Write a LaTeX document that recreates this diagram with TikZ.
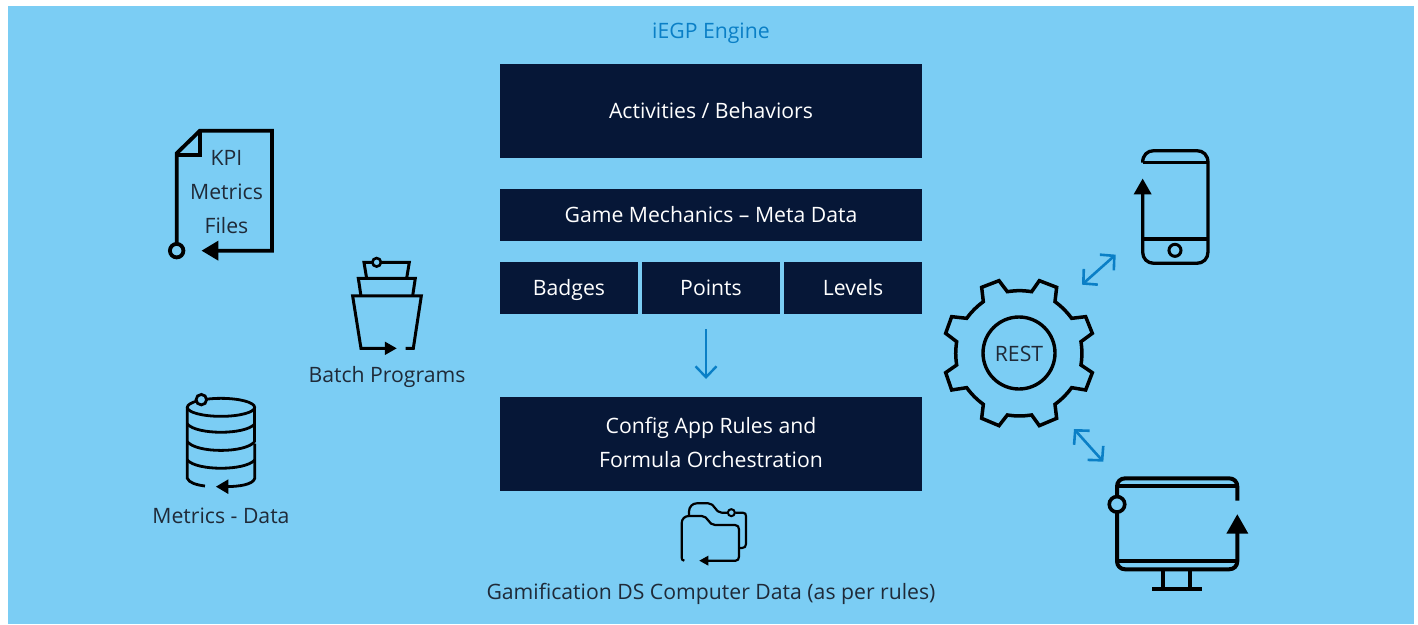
\documentclass[tikz,border=0pt]{standalone}
\usepackage{fontspec}
\setmainfont{Open Sans}
\usetikzlibrary{arrows.meta}
\definecolor{bgblue}{HTML}{7BCDF4}
\definecolor{navy}{HTML}{061737}
\definecolor{linkblue}{HTML}{0A7FC6}
\definecolor{inkdark}{HTML}{1F2A38}
\tikzset{
  x=1pt,y=-1pt,
  txt/.style={font=\fontsize{21.2}{34}\selectfont,inner sep=0pt,align=center},
  one/.style={text height=20pt,text depth=5pt},
  box/.style={txt,fill=navy,text=white,minimum height=#1},
  lab/.style={txt,text=inkdark},
  icon/.style={draw=black,line width=#1,line join=miter},
  bluearrow/.style={draw=linkblue,line width=2.6pt,{Straight Barb[length=10pt,width=21pt,line width=2.6pt]}-{Straight Barb[length=10pt,width=21pt,line width=2.6pt]}},
  downarrow/.style={draw=linkblue,line width=2.4pt,-{Straight Barb[length=11pt,width=21pt,line width=2.4pt]}},
  ring/.style={draw=black,fill=bgblue,circle,inner sep=0pt,minimum size=#1},
}
\begin{document}
\begin{tikzpicture}
\useasboundingbox (0,0) rectangle (1418,624);
\fill[bgblue] (8,6) rectangle (1414,624);
\node[txt,one,text=linkblue] (title) at (711,30.5) {iEGP Engine};
\node[box=94pt,minimum width=422pt,one] (act) at (711,111) {Activities / Behaviors};
\node[box=52pt,minimum width=422pt,one] (game) at (711,215) {Game Mechanics – Meta Data};
\node[box=52pt,minimum width=138pt,one] (badges) at (569,288) {Badges};
\node[box=52pt,minimum width=138pt,one] (points) at (711,288) {Points};
\node[box=52pt,minimum width=138pt,one] (levels) at (853,288) {Levels};
\node[box=94pt,minimum width=422pt] (config) at (711,444) {\smash{\raisebox{-6.8pt}{Config App Rules and}}\\\smash{\raisebox{-6.8pt}{Formula Orchestration}}};
\coordinate (downa) at (706,329);
\coordinate (downb) at (706,379);
\draw[downarrow] (downa) -- (downb);
% KPI file
\begin{scope}[shift={(140,110)},x=0.3333pt,y=-0.3333pt]
\coordinate (kpitip) at (185,422);
\draw[icon=3.8pt] (110,400) -- (110,130) -- (180,62) -- (396,62) -- (396,422) -- (225,422);
\draw[icon=3.8pt] (180,62) -- (180,135) -- (110,135);
\fill (kpitip) -- (235,392) -- (235,452) -- cycle;
\node[ring=13.5pt,line width=3.8pt] (kpiring) at (110,422) {};
\end{scope}
\node[lab] (kpi) at (226.5,192.5) {KPI\\Metrics\\Files};
% Batch
\begin{scope}[shift={(140,110)},x=0.3333pt,y=-0.3333pt]
\draw[icon=3pt] (680,505) -- (672,457) -- (808,457) -- (800,505);
\draw[icon=3pt] (663,558) -- (655,505) -- (826,505) -- (818,558);
\draw[icon=3pt] (745,715) -- (663,715) -- (638,558) -- (844,558) -- (820,715) -- (797,715);
\fill (770,715) -- (735,695) -- (735,735) -- cycle;
\node[ring=8.5pt,line width=2.6pt] (batchring) at (710,457) {};
\end{scope}
\node[lab,one] (batch) at (387,374.5) {Batch Programs};
% Database
\begin{scope}[shift={(140,385)},x=0.3333pt,y=-0.3333pt]
\draw[icon=2.8pt] (243,67) ellipse [x radius=101,y radius=27];
\draw[icon=2.8pt] (142,67) -- (142,280) .. controls (146,293) and (170,300) .. (195,303);
\draw[icon=2.8pt] (344,67) -- (344,172);
\draw[icon=2.8pt] (344,176) -- (344,280) .. controls (340,298) and (300,305) .. (255,305);
\draw[icon=2.8pt] (142,117) .. controls (170,150) and (316,150) .. (344,117);
\draw[icon=2.8pt] (142,170) .. controls (170,205) and (316,205) .. (344,170);
\draw[icon=2.8pt] (142,225) .. controls (170,258) and (316,258) .. (344,225);
\fill (228,305) -- (265,283) -- (265,327) -- cycle;
\node[ring=10.5pt,line width=2.8pt] (dbring) at (184,44) {};
\end{scope}
\node[lab,one] (metrics) at (221,515.5) {Metrics - Data};
% Folder
\begin{scope}[shift={(640,490)},x=0.3333pt,y=-0.3333pt]
\draw[icon=2.2pt,line join=round] (133,212) .. controls (127,212) and (125,208) .. (125,203) -- (125,100) .. controls (125,86) and (135,78) .. (147,78) -- (185,78) .. controls (205,78) and (205,105) .. (225,105) -- (285,105) .. controls (293,105) and (297,110) .. (297,118) -- (297,200) .. controls (297,208) and (293,212) .. (287,212) -- (195,212);
\draw[icon=2.2pt,line join=round] (147,78) -- (147,65) .. controls (147,50) and (158,40) .. (170,40) -- (205,40) .. controls (225,40) and (225,68) .. (245,68) -- (262,68);
\draw[icon=2.2pt,line join=round] (286,68) -- (308,68) .. controls (315,68) and (318,72) .. (318,78) -- (318,162) .. controls (318,170) and (314,174) .. (306,174) -- (297,174);
\fill (178,212) -- (205,197) -- (205,227) -- cycle;
\node[ring=7pt,line width=2pt] (folderring) at (274,68) {};
\end{scope}
\node[lab,one] (gds) at (711,592) {Gamification DS Computer Data (as per rules)};
% Gear
\begin{scope}[shift={(935,270)},x=0.3333pt,y=-0.3333pt]
\draw[icon=3.5pt] (217,65) to[bend left=8] (290,65) -- (313,32) -- (365,52) -- (360,95) to[bend left=8] (410,145) -- (452,140) -- (472,190) -- (438,215) to[bend left=8] (438,285) -- (472,308) -- (452,360) -- (410,353) to[bend left=8] (360,403) -- (365,445) -- (313,467) -- (290,435) to[bend left=8] (217,435) -- (192,467) -- (140,445) -- (145,403) to[bend left=8] (95,353) -- (50,360) -- (32,308) -- (65,285) to[bend left=8] (65,215) -- (32,190) -- (50,140) -- (95,145) to[bend left=8] (145,95) -- (140,52) -- (192,32) -- cycle;
\end{scope}
\node[lab,circle,draw=black,line width=3.4pt,minimum size=72pt,text height=17.4pt,text depth=0pt] (rest) at (1019,353) {REST};
% Phone
\begin{scope}[shift={(930,130)},x=0.3333pt,y=-0.3333pt]
\draw[icon=3.3pt,line join=round] (638,98) .. controls (638,75) and (652,62) .. (672,62) -- (800,62) .. controls (820,62) and (834,75) .. (834,98) -- (834,366) .. controls (834,386) and (820,400) .. (800,400) -- (672,400) .. controls (652,400) and (638,386) .. (638,366) -- (638,180);
\draw[icon=3.3pt] (638,98) -- (834,98);
\draw[icon=3.3pt] (638,327) -- (834,327);
\fill (638,146) -- (611,193) -- (665,193) -- cycle;
\node[ring=12pt,line width=3pt] (home) at (735,361) {};
\coordinate (phonearrowa) at (456,464);
\coordinate (phonearrowb) at (557,374);
\end{scope}
\draw[bluearrow] (phonearrowa) -- (phonearrowb);
% Monitor
\begin{scope}[shift={(1050,400)},x=0.3333pt,y=-0.3333pt]
\draw[icon=4pt,line join=round] (562,302) -- (562,260) .. controls (562,245) and (552,235) .. (537,235) -- (226,235) .. controls (211,235) and (201,245) .. (201,260) -- (201,483) .. controls (201,498) and (211,508) .. (226,508) -- (537,508) .. controls (552,508) and (562,498) .. (562,483) -- (562,390);
\draw[icon=4pt] (201,258) -- (562,258);
\draw[icon=4pt] (201,484) -- (562,484);
\draw[icon=4pt] (340,508) -- (340,568);
\draw[icon=4pt] (421,508) -- (421,568);
\draw[icon=4pt] (306,568) -- (456,568);
\fill (562,343) -- (529,401) -- (595,401) -- cycle;
\node[ring=15.5pt,line width=3.6pt] (monring) at (201,313) {};
\coordinate (monarrowa) at (72,87);
\coordinate (monarrowb) at (160,185);
\end{scope}
\draw[bluearrow] (monarrowa) -- (monarrowb);
\end{tikzpicture}
\end{document}
